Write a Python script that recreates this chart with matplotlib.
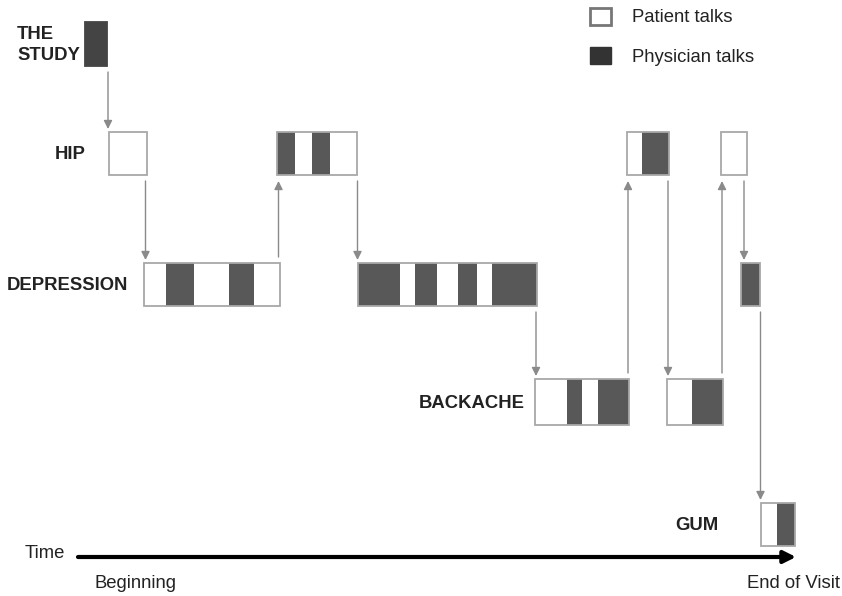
import matplotlib
matplotlib.use("Agg")
import matplotlib.pyplot as plt
from matplotlib.patches import Rectangle

plt.rcParams['font.family'] = ['Liberation Sans', 'DejaVu Sans']

# topics (rows) and the order in which they come up during the visit
topics = ['THE\nSTUDY', 'HIP', 'DEPRESSION', 'BACKACHE', 'GUM']
episode_topic = [0, 1, 2, 1, 2, 3, 1, 3, 1, 2, 4]

# talk turns per episode: (start, end, speaker) on the time axis
# 'P' = patient talks, 'D' = physician talks
episode_turns = [
    [(85, 107, 'D')],
    [(109, 147, 'P')],
    [(144, 166, 'P'), (166, 194, 'D'), (194, 229, 'P'), (229, 254, 'D'), (254, 280, 'P')],
    [(277, 295, 'D'), (295, 312, 'P'), (312, 330, 'D'), (330, 357, 'P')],
    [(358, 400, 'D'), (400, 415, 'P'), (415, 437, 'D'), (437, 458, 'P'),
     (458, 477, 'D'), (477, 492, 'P'), (492, 537, 'D')],
    [(535, 567, 'P'), (567, 582, 'D'), (582, 598, 'P'), (598, 629, 'D')],
    [(627, 642, 'P'), (642, 669, 'D')],
    [(667, 692, 'P'), (692, 723, 'D')],
    [(721, 747, 'P')],
    [(741, 760, 'D')],
    [(761, 777, 'P'), (777, 795, 'D')],
]
legend_labels = ['Patient talks', 'Physician talks']

# layout (pixel units, y grows downwards)
row_top = [22, 132, 263, 379, 503]
row_h = [44, 43, 43, 46, 43]
label_right = [80, 86, 128, 525, 718]
dark = '#585858'
edge = '#a8a8a8'
arrow_col = '#8a8a8a'
fs = 13.3

fig = plt.figure(figsize=(8.42, 5.96), dpi=100)
ax = fig.add_axes([0, 0, 1, 1])
ax.set_xlim(0, 842)
ax.set_ylim(596, 0)
ax.axis('off')

# row labels
for i, name in enumerate(topics):
    ax.text(label_right[i], row_top[i] + row_h[i] / 2 + 1, name, ha='right', va='center',
            multialignment='left', fontsize=fs, fontweight='bold', color='#222222',
            linespacing=1.35)

# episodes
for k, (t, turns) in enumerate(zip(episode_topic, episode_turns)):
    y0, h = row_top[t], row_h[t]
    fc_dark = '#444444' if k == 0 else dark
    for s, e, who in turns:
        ax.add_patch(Rectangle((s, y0), e - s, h, facecolor=fc_dark if who == 'D' else 'white',
                               edgecolor='none', zorder=2))
    x0, x1 = turns[0][0], turns[-1][1]
    ax.add_patch(Rectangle((x0, y0), x1 - x0, h, facecolor='none',
                           edgecolor=edge if k > 0 else '#444444', lw=1.3, zorder=3))

# arrows between consecutive episodes
for k in range(len(episode_topic) - 1):
    a, b = episode_topic[k], episode_topic[k + 1]
    x = (episode_turns[k][-1][1] + episode_turns[k + 1][0][0]) / 2
    if b > a:
        y_from = row_top[a] + row_h[a] + 6
        y_to = row_top[b] - 3
    else:
        y_from = row_top[a] - 6
        y_to = row_top[b] + row_h[b] + 6
    ax.annotate('', xy=(x, y_to), xytext=(x, y_from),
                arrowprops=dict(arrowstyle='-|>,head_length=0.5,head_width=0.25',
                                color=arrow_col, lw=1.0, mutation_scale=10,
                                shrinkA=0, shrinkB=0), zorder=1)

# time axis
ax.annotate('', xy=(796, 557), xytext=(78, 557),
            arrowprops=dict(arrowstyle='-|>,head_length=0.6,head_width=0.3',
                            color='black', lw=3.0, mutation_scale=12,
                            shrinkA=0, shrinkB=0))
ax.text(25, 553, 'Time', ha='left', va='center', fontsize=fs, color='#222222')
ax.text(95, 583, 'Beginning', ha='left', va='center', fontsize=fs, color='#222222')
ax.text(840, 583, 'End of Visit', ha='right', va='center', fontsize=fs, color='#222222')

# legend
ax.add_patch(Rectangle((590, 8), 21, 17, facecolor='white', edgecolor='#777777', lw=2))
ax.add_patch(Rectangle((590, 47), 21, 17, facecolor='#333333', edgecolor='#333333', lw=1))
ax.text(632, 17, legend_labels[0], ha='left', va='center', fontsize=fs, color='#222222')
ax.text(632, 57, legend_labels[1], ha='left', va='center', fontsize=fs, color='#222222')

fig.savefig('out.png', dpi=100)
